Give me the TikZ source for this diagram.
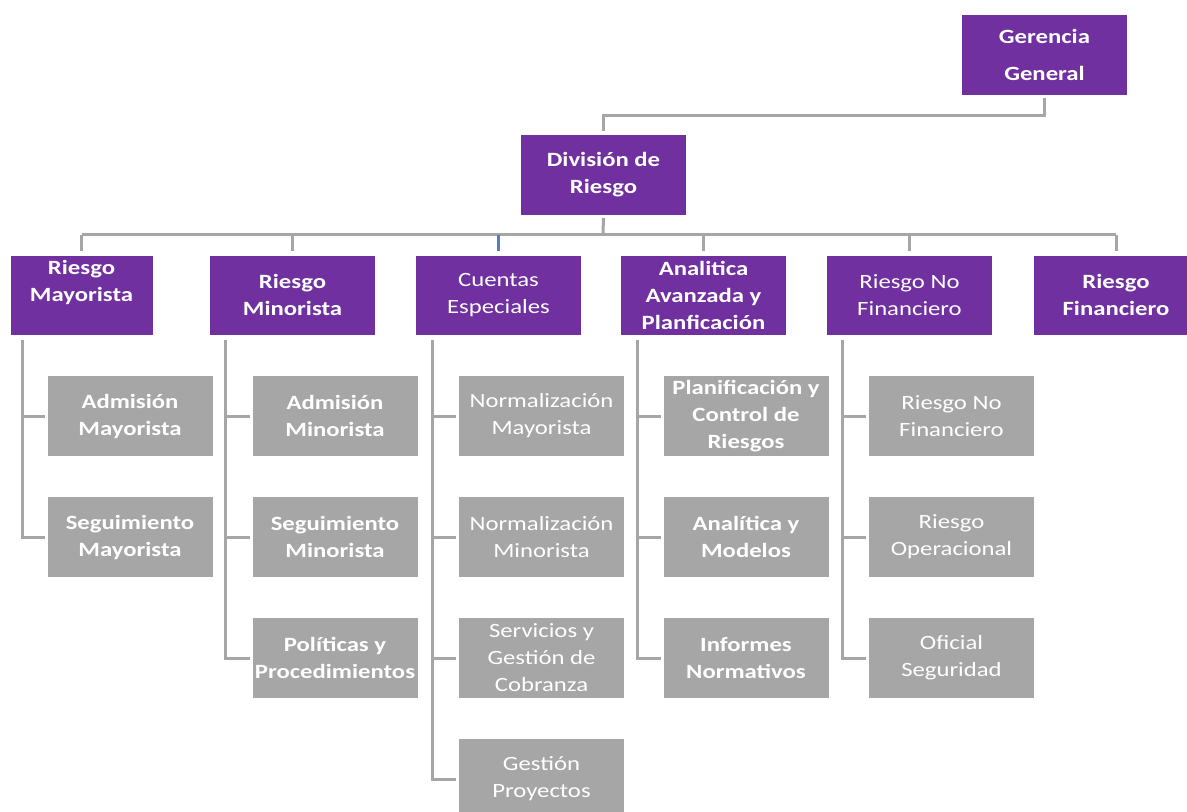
\documentclass[tikz,border=0pt]{standalone}
\usepackage{fontspec}
\setmainfont{Carlito}[FakeStretch=1.22]
\usetikzlibrary{calc,positioning}
\definecolor{orgpurple}{HTML}{7030A0}
\definecolor{orggrey}{HTML}{A6A6A6}
\definecolor{orgblue}{HTML}{4F81BD}
\tikzset{
    unit/.style = {draw=white, fill=orgpurple, text=white, rectangle,
        minimum height=60pt,
        minimum width=124.5pt, inner sep=0pt, align=center,
        font=\fontsize{15.2}{20.25}\selectfont\bfseries},
    unitreg/.style = {unit, font=\fontsize{15.2}{20.25}\selectfont},
    sub/.style = {draw=white, fill=orggrey, text=white, rectangle,
        minimum height=60.75pt,
        minimum width=124.5pt, inner sep=0pt, align=center,
        font=\fontsize{15.2}{20.25}\selectfont\bfseries},
    subreg/.style = {sub, font=\fontsize{15.2}{20.25}\selectfont},
    link/.style = {draw=orggrey, line width=2.25pt},
    tick/.style = {link, shorten >=3pt}
}
\begin{document}
\begin{tikzpicture}[x=0.75pt, y=-0.75pt, node distance=90.75pt]
        \useasboundingbox (0,0) rectangle (1187,812);
        % top of the chart
        \node [unit, minimum height=60.75pt, font=\fontsize{15.2}{27.75}\selectfont\bfseries] (gg) at (1044.5,54.5) {Gerencia\\General};
        \node [unit, minimum height=60.75pt] (div) at (603.5,174.5) {División de\\Riesgo};
        \draw [link, shorten <=2pt, shorten >=2pt] (gg.south) -- ++(0,20) -| (div.north);
        % second level
        \node [unit, minimum width=107.25pt] (rmay) at (81.5,295) {Riesgo\\Mayorista\\[-5pt]\strut};
        \node [unit] (rmin) at (292.5,295) {Riesgo\\Minorista};
        \node [unitreg] (cesp) at (498.5,295) {Cuentas\\Especiales};
        \node [unit] (aap) at (703.5,295) {Analitica\\Avanzada y\\Planficación};
        \node [unitreg] (rnf) at (909.5,295) {Riesgo No\\Financiero};
        \node [unit] (rfin) at (1116,295) {Riesgo\\Financiero};
        \coordinate (bus) at (603,235);
        \draw [link, shorten <=2pt] (div.south) -- (bus);
        \draw [link] (rmay.north |- bus) -- (rfin.north |- bus);
        \draw [tick] (rmay.north |- bus) -- (rmay.north);
        \draw [tick] (rmin.north |- bus) -- (rmin.north);
        \draw [tick, draw=orgblue] (cesp.north |- bus) -- (cesp.north);
        \draw [tick] (aap.north |- bus) -- (aap.north);
        \draw [tick] (rnf.north |- bus) -- (rnf.north);
        \draw [tick] (rfin.north |- bus) -- (rfin.north);
        % Riesgo Mayorista
        \node [sub] (admay) at (130,416) {Admisión\\Mayorista};
        \node [sub, below of=admay] (segmay) {Seguimiento\\Mayorista};
        \coordinate (sp1) at (22,340);
        \draw [link, shorten >=1.5pt] (sp1) |- (admay);
        \draw [link, shorten >=1.5pt] (sp1) |- (segmay);
        % Riesgo Minorista
        \node [sub] (admin) at (335,416) {Admisión\\Minorista};
        \node [sub, below of=admin] (segmin) {Seguimiento\\Minorista};
        \node [sub, below of=segmin] (polproc) {Políticas y\\Procedimientos};
        \coordinate (sp2) at (225,340);
        \draw [link, shorten >=1.5pt] (sp2) |- (admin);
        \draw [link, shorten >=1.5pt] (sp2) |- (segmin);
        \draw [link, shorten >=1.5pt] (sp2) |- (polproc);
        % Cuentas Especiales
        \node [subreg] (normay) at (541.5,416) {Normalización\\Mayorista};
        \node [subreg, below of=normay] (normin) {Normalización\\Minorista};
        \node [subreg, below of=normin] (cobr) {Servicios y\\Gestión de\\Cobranza};
        \node [subreg, below of=cobr] (gproy) {Gestión\\Proyectos};
        \coordinate (sp3) at (432,340);
        \draw [link, shorten >=1.5pt] (sp3) |- (normay);
        \draw [link, shorten >=1.5pt] (sp3) |- (normin);
        \draw [link, shorten >=1.5pt] (sp3) |- (cobr);
        \draw [link, shorten >=1.5pt] (sp3) |- (gproy);
        % Analitica Avanzada
        \node [sub] (pcr) at (746,416) {Planificación y\\Control de\\Riesgos};
        \node [sub, below of=pcr] (anmod) {Analítica y\\Modelos};
        \node [sub, below of=anmod] (infn) {Informes\\Normativos};
        \coordinate (sp4) at (637,340);
        \draw [link, shorten >=1.5pt] (sp4) |- (pcr);
        \draw [link, shorten >=1.5pt] (sp4) |- (anmod);
        \draw [link, shorten >=1.5pt] (sp4) |- (infn);
        % Riesgo No Financiero
        \node [subreg] (rnfin) at (951.5,416) {Riesgo No\\Financiero};
        \node [subreg, below of=rnfin] (rop) {Riesgo\\Operacional};
        \node [subreg, below of=rop] (ofseg) {Oficial\\Seguridad};
        \coordinate (sp5) at (842,340);
        \draw [link, shorten >=1.5pt] (sp5) |- (rnfin);
        \draw [link, shorten >=1.5pt] (sp5) |- (rop);
        \draw [link, shorten >=1.5pt] (sp5) |- (ofseg);
    \end{tikzpicture}
\end{document}
